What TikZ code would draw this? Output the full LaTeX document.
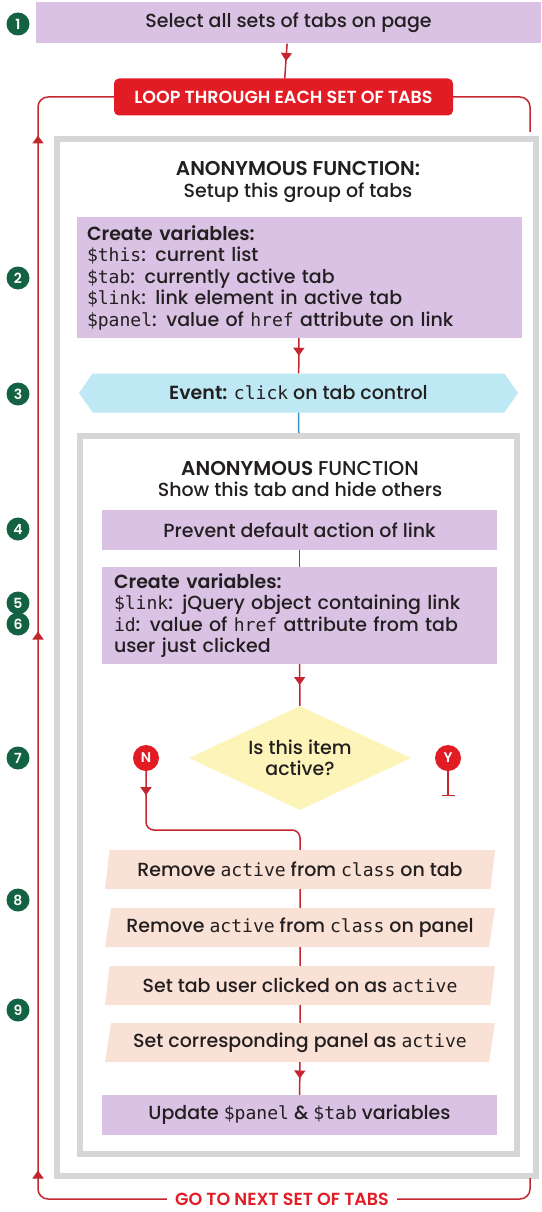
\documentclass[tikz,border=0pt]{standalone}
\usepackage{fontspec}
\setmainfont{Poppins}[UprightFont=* Medium, BoldFont=* SemiBold]
\setmonofont{DejaVu Sans Mono}[Scale=0.95]
\usetikzlibrary{positioning,shapes.geometric,shapes.symbols,arrows.meta,decorations.markings}

\definecolor{lilac}{RGB}{218,194,228}
\definecolor{peach}{RGB}{250,225,213}
\definecolor{sky}{RGB}{190,232,244}
\definecolor{lemon}{RGB}{252,244,184}
\definecolor{loopred}{RGB}{226,28,36}
\definecolor{linered}{RGB}{196,38,48}
\definecolor{stepgreen}{RGB}{20,98,68}
\definecolor{framegray}{RGB}{214,214,214}
\definecolor{evtblue}{RGB}{60,140,200}
\definecolor{ink}{RGB}{35,31,32}

\newcommand{\fsz}[2]{\fontsize{#1}{#2}\selectfont}
\newcommand{\tcode}[1]{{\ttfamily #1}}

\tikzset{
  every node/.style={text=ink},
  box/.style={fill=lilac, minimum width=395pt, minimum height=40pt, inner sep=0pt, font=\fsz{19}{21.5}},
  slant/.style={trapezium, trapezium left angle=73, trapezium right angle=107,
    trapezium stretches body, fill=peach, minimum width=390pt, minimum height=39pt,
    inner sep=0pt, font=\fsz{19}{21.5}},
  frame/.style={draw=framegray, line width=6pt, inner sep=0pt},
  hdr/.style={align=center, font=\fsz{19}{21.5}},
  stepnum/.style={circle, fill=stepgreen, text=white, minimum size=23pt, inner sep=0pt, font=\fsz{14}{14}\bfseries},
  yn/.style={circle, fill=loopred, text=white, minimum size=26pt, inner sep=0pt, font=\fsz{14}{14}\bfseries},
  link/.style={draw=linered, line width=1.5pt},
  midarrow/.style={decoration={markings, mark=at position 0.5 with {\arrow[linered]{Triangle[width=11pt,length=8pt]}}}, postaction=decorate},
}

\begin{document}
\begin{tikzpicture}[x=1pt, y=-1pt]
  \useasboundingbox (0,0) rectangle (541,1212);

  % steps down the left side
  \foreach \n/\y in {1/24, 2/278, 3/394, 4/529, 5/603, 6/624, 7/758, 8/900, 9/1010}
    \node[stepnum] (s\n) at (18,\y) {\n};

  \node[box, minimum width=505pt, minimum height=41pt] (sel) at (288.5,23) {Select all sets of tabs on page};
  \node[fill=loopred, rounded corners=5pt, text=white, minimum width=339pt, minimum height=37pt,
    font=\fsz{17.5}{17.5}\bfseries] (loop) at (283.5,97) {LOOP THROUGH EACH SET OF TABS};

  % outer function
  \node[frame, minimum width=479pt, minimum height=1037pt] (outer) at (296.5,657.5) {};
  \node[hdr] (hd1) at (298,182) {{\fsz{20}{21.5}\bfseries ANONYMOUS FUNCTION:}\\Setup this group of tabs};
  \node[box, minimum width=445pt, minimum height=121pt, text width=425pt, align=left] (vars) at (299.5,277.5)
    {\textbf{Create variables:}\\
     \tcode{\$this}: current list\\
     \tcode{\$tab}: currently active tab\\
     \tcode{\$link}: link element in active tab\\
     \tcode{\$panel}: value of \tcode{href} attribute on link};
  \node[signal, signal to=west and east, signal pointer angle=110, fill=sky, minimum width=439pt,
    minimum height=39pt, inner sep=0pt, font=\fsz{19}{21.5}] (evt) at (298.5,393)
    {\textbf{Event:} \tcode{click} on tab control};

  % inner function
  \node[frame, minimum width=437pt, minimum height=718pt] (inner) at (298.75,795) {};
  \node[hdr] (hd2) at (300,479) {{\fsz{20}{21.5}\bfseries ANONYMOUS} {\fsz{20}{21.5}FUNCTION}\\Show this tab and hide others};
  \node[box] (prev) at (299.5,530) {Prevent default action of link};
  \node[box, minimum height=97pt, text width=371pt, align=left] (vars2) at (299.5,615.5)
    {\textbf{Create variables:}\\
     \tcode{\$link}: jQuery object containing link\\
     \tcode{id}: value of \tcode{href} attribute from tab\\
     user just clicked};
  \node[diamond, fill=lemon, aspect=2.13, minimum width=222pt, minimum height=104pt, inner sep=0pt,
    align=center, font=\fsz{19}{21}] (active) at (300,758) {Is this item\\active?};
  \node[yn] (nbtn) at (146,758) {N};
  \node[yn] (ybtn) at (448,758) {Y};
  \node[slant] (rem1) at (300,869.5) {Remove \tcode{active} from \tcode{class} on tab};
  \node[slant] (rem2) at (300,927.5) {Remove \tcode{active} from \tcode{class} on panel};
  \node[slant] (set1) at (300,985.5) {Set tab user clicked on as \tcode{active}};
  \node[slant] (set2) at (300,1042.5) {Set corresponding panel as \tcode{active}};
  \node[box] (upd) at (299.5,1115) {Update \tcode{\$panel} \& \tcode{\$tab} variables};

  \node[text=loopred, inner sep=8pt, font=\fsz{17.5}{17.5}\bfseries] (next) at (282,1199) {GO TO NEXT SET OF TABS};

  \coordinate (nturn) at (300,830);
  \coordinate (yend) at (448,796);
  \coordinate (rtop) at (530,132);
  \coordinate (rbot) at (530,1178);

  % connectors
  \draw[link, midarrow] (sel) -- (loop);
  \draw[link, midarrow] (vars) -- (evt);
  \draw[draw=evtblue, line width=1.5pt] (evt) -- (inner.north);
  \draw[link] (prev) -- (vars2);
  \draw[link, midarrow] (vars2) -- (active);
  \draw[link, rounded corners=8pt, decoration={markings, mark=at position 24pt with {\arrow[linered]{Triangle[width=11pt,length=8pt]}}},
    postaction=decorate] (nbtn.south) |- (nturn) -- (rem1.north);
  \draw[link, -{Bar[width=13pt]}] (ybtn.south) -- (yend);
  \draw[link] (rem1) -- (rem2);
  \draw[link] (rem2) -- (set1);
  \draw[link] (set1) -- (set2);
  \draw[link, midarrow] (set2) -- (upd);

  % the loop back round
  \draw[link, rounded corners=10pt,
    decoration={markings,
      mark=at position 110pt with {\arrowreversed[linered]{Triangle[width=11pt,length=8pt]}},
      mark=at position 606pt with {\arrowreversed[linered]{Triangle[width=11pt,length=8pt]}},
      mark=at position 1145pt with {\arrowreversed[linered]{Triangle[width=11pt,length=8pt]}}},
    postaction=decorate] (loop.west) -- (38,97) -- (38,1199) -- (next.west);
  \draw[link, rounded corners=10pt] (loop.east) -- (530,97) -- (rtop);
  \draw[link, rounded corners=10pt] (next.east) -- (530,1199) -- (rbot);
\end{tikzpicture}
\end{document}
